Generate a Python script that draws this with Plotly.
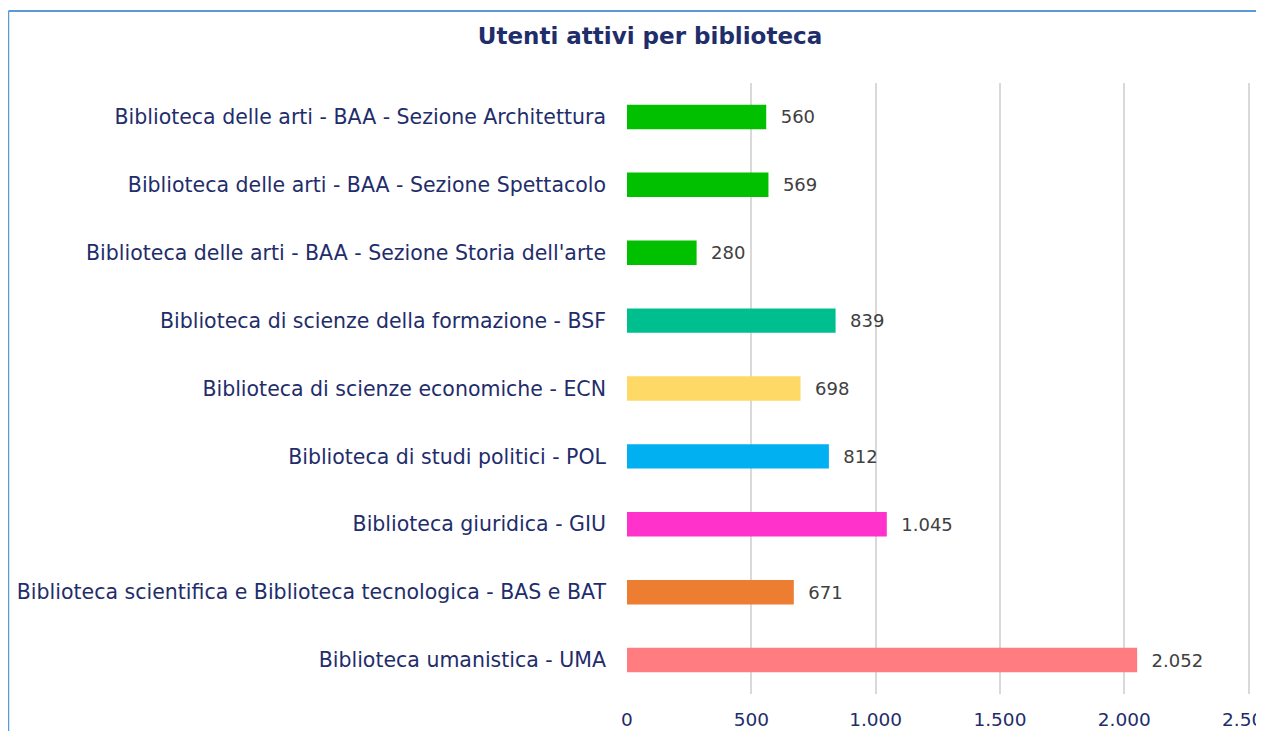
import plotly.graph_objects as go

biblioteche = [
    "Biblioteca delle arti - BAA - Sezione Architettura",
    "Biblioteca delle arti - BAA - Sezione Spettacolo",
    "Biblioteca delle arti - BAA - Sezione Storia dell'arte",
    "Biblioteca di scienze della formazione - BSF",
    "Biblioteca di scienze economiche - ECN",
    "Biblioteca di studi politici - POL",
    "Biblioteca giuridica - GIU",
    "Biblioteca scientifica e Biblioteca tecnologica - BAS e BAT",
    "Biblioteca umanistica - UMA",
]
utenti = [560, 569, 280, 839, 698, 812, 1045, 671, 2052]
colori = ["#00C000", "#00C000", "#00C000", "#00BF8F", "#FFD966",
          "#00B0F0", "#FF33CC", "#ED7D31", "#FF7C80"]
tick_vals = [0, 500, 1000, 1500, 2000, 2500]

NAVY = "#1F2D6B"

# la pagina ha 8px di margine: la figura parte da (8, 8)
W, H = 1256, 723
L, R, T, B = 619, 8, 75, 37
PW, PH = W - L - R, H - T - B

fig = go.Figure(
    go.Bar(
        x=utenti,
        y=biblioteche,
        orientation="h",
        marker=dict(color=colori, line=dict(width=0)),
        width=0.36,
        texttemplate="\u00a0\u00a0%{x:,}",
        textposition="outside",
        cliponaxis=False,
        textfont=dict(family="DejaVu Sans", size=18, color="#404040"),
        showlegend=False,
    )
)

fig.update_layout(
    width=W,
    height=H,
    separators=",.",
    paper_bgcolor="white",
    plot_bgcolor="white",
    margin=dict(l=L, r=R, t=T, b=B),
    title=dict(
        text="<b>Utenti attivi per biblioteca</b>",
        x=(650 - 8) / W,
        xanchor="center",
        y=1 - 28 / H,
        yanchor="middle",
        font=dict(family="DejaVu Sans", size=23, color=NAVY),
    ),
    font=dict(family="DejaVu Sans", color=NAVY),
)

fig.update_xaxes(
    range=[0, 2530],
    tickvals=tick_vals,
    tickformat=",",
    showgrid=True,
    gridcolor="#D9D9D9",
    gridwidth=2,
    zeroline=False,
    showline=False,
    automargin=False,
    ticklabeloverflow="allow",
    ticklabelstandoff=12,
    tickfont=dict(family="DejaVu Sans", size=18.5, color=NAVY),
)
fig.update_yaxes(
    autorange="reversed",
    showgrid=False,
    showline=False,
    ticks="",
    automargin=False,
    ticklabelstandoff=20,
    tickfont=dict(family="DejaVu Sans", size=20.5, color=NAVY),
)

# bordo del riquadro (tagliato a destra e in basso come nell'originale)
bx = (0.5 - L) / PW
by = 1 + (T - 3) / PH
fig.add_shape(type="line", xref="paper", yref="paper", x0=bx, x1=1.2,
              y0=by, y1=by, line=dict(color="#5B9BD5", width=2))
fig.add_shape(type="line", xref="paper", yref="paper", x0=bx, x1=bx,
              y0=-0.2, y1=by, line=dict(color="#5B9BD5", width=1.5))

fig.write_html("out.html")
